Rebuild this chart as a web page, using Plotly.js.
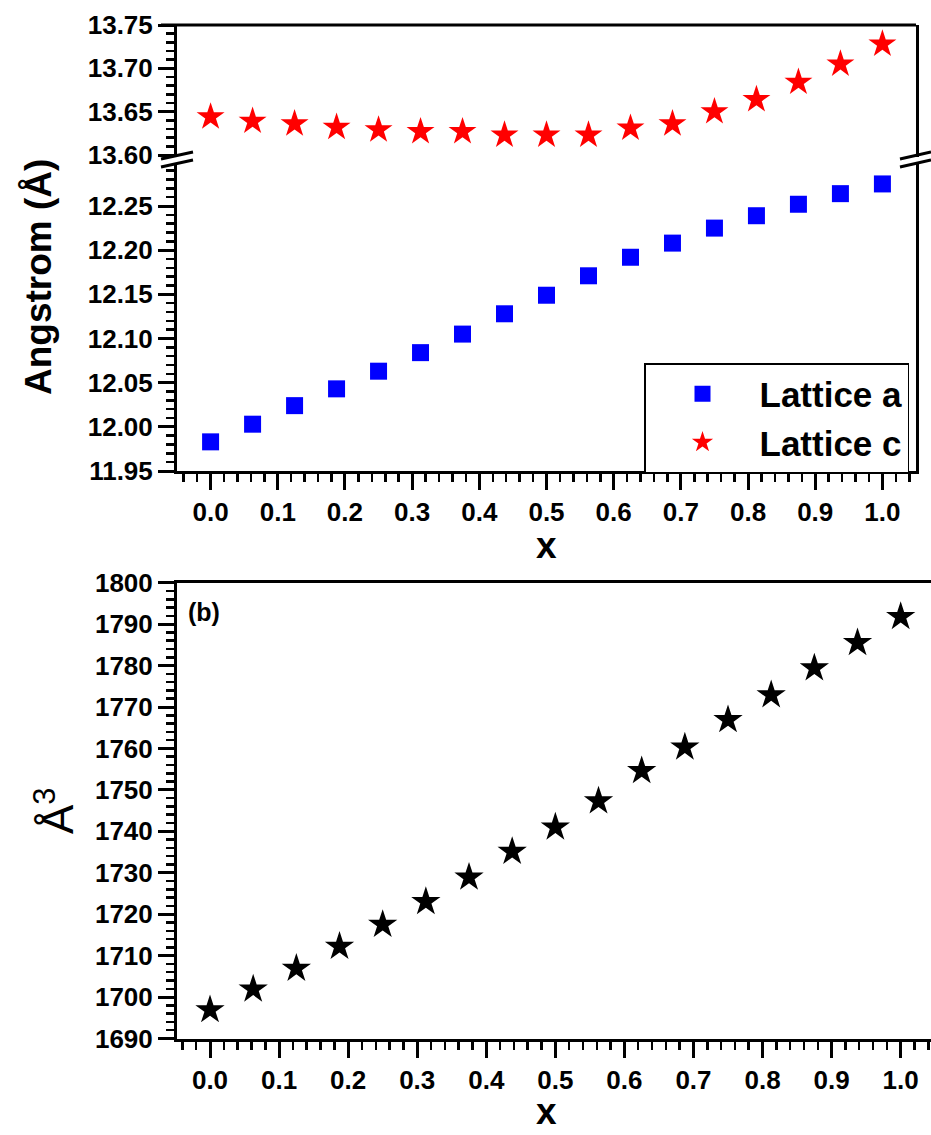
<!DOCTYPE html>
<html><head><meta charset="utf-8">
<script src="https://cdn.plot.ly/plotly-3.0.1.min.js"></script>
<style>html,body{margin:0;padding:0;background:#fff}</style>
</head><body><div id="chart" style="width:931px;height:1135px"></div>
<script>
// ---- data ----
const xComp = [0, 0.0625, 0.125, 0.1875, 0.25, 0.3125, 0.375, 0.4375, 0.5, 0.5625, 0.625, 0.6875, 0.75, 0.8125, 0.875, 0.9375, 1.0];
const latticeA = [11.983, 12.003, 12.024, 12.043, 12.063, 12.084, 12.105, 12.128, 12.149, 12.171, 12.192, 12.208, 12.225, 12.239, 12.252, 12.264, 12.275];
const latticeC = [13.644, 13.639, 13.636, 13.632, 13.629, 13.627, 13.627, 13.623, 13.623, 13.623, 13.631, 13.636, 13.650, 13.664, 13.684, 13.705, 13.728];
const volume = [1696.9, 1701.9, 1706.9, 1712.2, 1717.5, 1723.0, 1728.9, 1735.1, 1741.0, 1747.3, 1754.6, 1760.3, 1766.9, 1772.9, 1779.4, 1785.5, 1791.8];
const xTickFmt = '.1f';
const seriesNames = ['Lattice a', 'Lattice c'];

// ---- layout helpers ----
const W = 931, H = 1135;
const fx = px => px / W;
const fy = px => 1 - px / H;
const FONT = 'Arial, "Liberation Sans", sans-serif';

function axis(extra) {
  return Object.assign({
    showgrid: false, zeroline: false, showline: true, linecolor: 'black', linewidth: 3,
    ticks: 'outside', ticklen: 16, tickwidth: 3, tickcolor: 'black',
    tickfont: {family: FONT, size: 26, color: 'black', weight: 'bold'},
    fixedrange: true
  }, extra);
}
const minor = (dtick, tick0) => ({ticks: 'outside', ticklen: 8, tickwidth: 2.5, tickcolor: 'black', dtick: dtick, tick0: tick0});

const traces = [
  {x: xComp, y: latticeA, name: seriesNames[0], type: 'scatter', mode: 'markers',
   xaxis: 'x', yaxis: 'y', legendgroup: 'a',
   marker: {symbol: 'square', size: 17, color: '#0000ff'}},
  {x: xComp, y: latticeC, name: seriesNames[1], type: 'scatter', mode: 'markers',
   xaxis: 'x', yaxis: 'y3', legendgroup: 'c',
   marker: {symbol: 'star', size: 21, color: '#ff0000'}},
  {x: xComp, y: volume, name: 'Volume', type: 'scatter', mode: 'markers',
   xaxis: 'x2', yaxis: 'y2', showlegend: false,
   marker: {symbol: 'star', size: 22, color: '#000000'}}
];

const brk = (x0, y0, x1, y1) => ({type: 'line', xref: 'paper', yref: 'paper',
  x0: fx(x0), y0: fy(y0), x1: fx(x1), y1: fy(y1), line: {color: 'black', width: 3}});

const layout = {
  width: W, height: H,
  margin: {l: 0, r: 0, t: 0, b: 0},
  paper_bgcolor: 'white', plot_bgcolor: 'white',
  font: {family: FONT, color: 'black', weight: 'bold'},
  showlegend: true,
  legend: {x: fx(909), xanchor: 'right', y: fy(363), yanchor: 'top',
    bordercolor: 'black', borderwidth: 1.5, bgcolor: 'white',
    font: {family: FONT, size: 35, color: 'black', weight: 'bold'},
    itemwidth: 104, tracegroupgap: 0},
  xaxis: axis({domain: [fx(177), fx(916)], range: [-0.05, 1.05], anchor: 'y',
    tick0: 0, dtick: 0.1, tickformat: xTickFmt, minor: minor(0.02, 0)}),
  yaxis: axis({domain: [fy(471), fy(163)], range: [11.95, 12.2987], anchor: 'x',
    tick0: 11.95, dtick: 0.05, tickformat: '.2f', mirror: true, minor: minor(0.01, 11.95)}),
  yaxis3: axis({domain: [fy(157), fy(25)], range: [13.5977, 13.75], anchor: 'x',
    tick0: 13.6, dtick: 0.05, tickformat: '.2f', mirror: true, minor: minor(0.01, 13.6)}),
  xaxis2: axis({domain: [fx(177), 1], range: [-0.0478, 1.0439], anchor: 'y2', mirror: true,
    tick0: 0, dtick: 0.1, tickformat: xTickFmt, minor: minor(0.02, 0)}),
  yaxis2: axis({domain: [fy(1038.5), fy(582.7)], range: [1690, 1800], anchor: 'x2',
    tick0: 1690, dtick: 10, tickformat: 'd', minor: minor(2, 1690)}),
  shapes: [
    {type: 'line', xref: 'paper', yref: 'paper', x0: fx(161), x1: fx(916), y0: fy(25), y1: fy(25), line: {color: 'black', width: 3}},
    brk(161, 159, 193, 152), brk(161, 167, 193, 160),
    brk(900, 159, 931, 152), brk(900, 167, 931, 160)
  ],
  annotations: [
    {text: 'Angstrom (Å)', xref: 'paper', yref: 'paper', x: fx(39), y: fy(277), xanchor: 'center', yanchor: 'middle',
     textangle: -90, showarrow: false, font: {family: FONT, size: 37, color: 'black', weight: 'bold'}},
    {text: 'x', xref: 'paper', yref: 'paper', x: fx(546), y: fy(545), xanchor: 'center', yanchor: 'middle',
     showarrow: false, font: {family: FONT, size: 37, color: 'black', weight: 'bold'}},
    {text: 'Å<sup>3</sup>', xref: 'paper', yref: 'paper', x: fx(54), y: fy(811), xanchor: 'center', yanchor: 'middle',
     textangle: -90, showarrow: false, font: {family: FONT, size: 44, color: 'black', weight: 'normal'}},
    {text: '(b)', xref: 'paper', yref: 'paper', x: fx(186), y: fy(596), xanchor: 'left', yanchor: 'top',
     showarrow: false, font: {family: FONT, size: 25, color: 'black', weight: 'bold'}},
    {text: 'x', xref: 'paper', yref: 'paper', x: fx(546), y: fy(1111), xanchor: 'center', yanchor: 'middle',
     showarrow: false, font: {family: FONT, size: 37, color: 'black', weight: 'bold'}}
  ]
};

Plotly.newPlot('chart', traces, layout, {displayModeBar: false, staticPlot: true});
</script>
</body></html>
